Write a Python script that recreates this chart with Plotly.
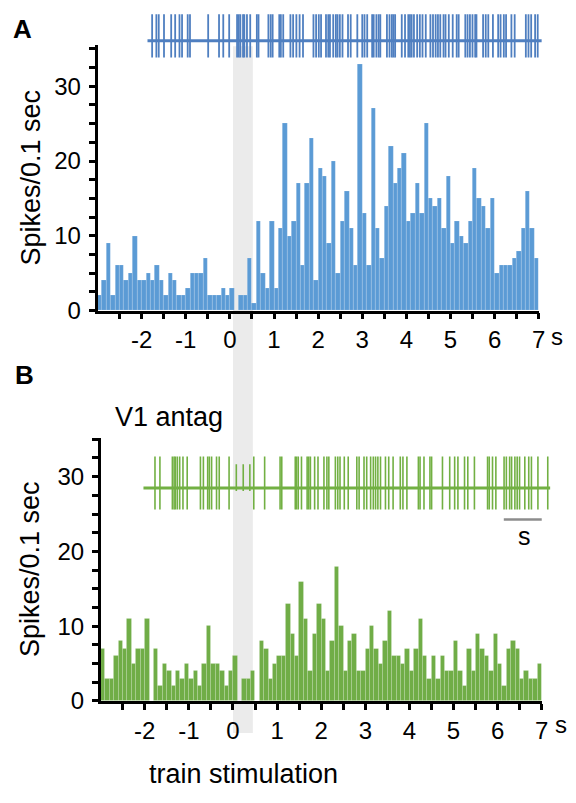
import plotly.graph_objects as go

# ---------------- data ----------------
bin_left = [-3 + 0.1 * i for i in range(100)]
bin_centers = [round(b + 0.05, 3) for b in bin_left]

counts_A = [2, 4, 9, 2, 6, 6, 4, 5, 10, 4,
            4, 5, 4, 6, 4, 2, 5, 4, 2, 2,
            3, 5, 5, 5, 7, 2, 2, 2, 3, 2,
            3, 0, 2, 2, 7, 1, 12, 5, 3, 12,
            3, 11, 25, 10, 12, 17, 6, 17, 23, 4,
            19, 18, 9, 20, 5, 12, 16, 11, 6, 33,
            13, 6, 27, 11, 7, 14, 22, 17, 19, 21,
            12, 13, 17, 13, 25, 15, 14, 15, 11, 18,
            9, 12, 10, 9, 12, 19, 15, 14, 11, 15,
            5, 6, 6, 6, 7, 8, 11, 16, 11, 7]

counts_B = [7, 3, 3, 6, 8, 7, 11, 5, 7, 7,
            11, 0, 7, 2, 5, 4, 2, 4, 3, 5,
            3, 4, 2, 5, 10, 5, 5, 4, 2, 4,
            6, 0, 3, 3, 4, 0, 8, 7, 3, 5,
            6, 6, 13, 9, 6, 16, 11, 4, 9, 13,
            11, 4, 8, 18, 10, 4, 8, 9, 4, 4,
            7, 10, 7, 5, 8, 12, 6, 6, 5, 7,
            4, 7, 11, 6, 3, 6, 3, 6, 4, 4,
            8, 4, 2, 7, 4, 9, 7, 6, 4, 9,
            5, 2, 7, 8, 7, 3, 4, 3, 3, 5]

spikes_A = [-1.762, -1.666, -1.612, -1.493, -1.330, -1.240, -1.142, -1.084, -0.956, -0.904,
            -0.492, -0.246, -0.150, -0.016, 0.163, 0.201, 0.237, 0.298, 0.327, 0.387,
            0.461, 0.611, 0.649, 0.873, 0.925, 0.969, 1.119, 1.155, 1.209, 1.372,
            1.433, 1.507, 1.580, 1.657, 1.894, 1.954, 2.015, 2.066, 2.178, 2.230,
            2.268, 2.342, 2.402, 2.440, 2.492, 2.552, 2.677, 2.738, 2.888, 3.000,
            3.051, 3.112, 3.224, 3.259, 3.320, 3.371, 3.409, 3.559, 3.618, 3.671,
            3.707, 3.745, 3.895, 3.969, 4.043, 4.081, 4.119, 4.171, 4.244, 4.305,
            4.365, 4.439, 4.544, 4.603, 4.663, 4.715, 4.768, 4.842, 4.887, 4.961,
            5.050, 5.140, 5.185, 5.335, 5.386, 5.440, 5.498, 5.559, 5.588, 5.738,
            5.798, 5.856, 5.961, 6.080, 6.134, 6.208, 6.259, 6.380, 6.454, 6.707,
            6.767, 6.828, 6.917, 6.976]
trace_span_A = [-1.867, 7.065]

spikes_B = [-1.769, -1.657, -1.375, -1.336, -1.307, -1.263, -1.209, -1.135, -1.039, -0.739,
            -0.672, -0.575, -0.537, -0.486, -0.374, -0.313, -0.090, 0.470, 0.716, 1.066,
            1.104, 1.410, 1.439, 1.478, 1.551, 1.679, 1.715, 1.753, 1.849, 1.925,
            2.060, 2.127, 2.171, 2.319, 2.373, 2.424, 2.521, 2.610, 2.805, 2.857,
            2.968, 3.029, 3.118, 3.179, 3.230, 3.282, 3.342, 3.454, 3.528, 3.627,
            3.790, 3.850, 3.940, 4.200, 4.238, 4.327, 4.462, 4.500, 4.746, 4.910,
            5.022, 5.096, 5.246, 5.320, 5.470, 5.768, 5.806, 5.880, 5.956, 6.142,
            6.194, 6.268, 6.313, 6.387, 6.439, 6.493, 6.612, 6.701, 6.762, 6.909,
            7.132]
small_spikes_B = [0.074, 0.231, 0.381]
trace_span_B = [-2.03, 7.186]

stim_window = [0.07, 0.52]
scale_bar = [6.14, 7.04]

x_tick_vals = [-2, -1, 0, 1, 2, 3, 4, 5, 6, 7]
x_tick_text = ["-2", "-1", "0", "1", "2", "3", "4", "5", "6", "7"]
y_tick_vals = [0, 10, 20, 30]

# ---------------- styling / layout ----------------
W, H = 576, 803
FONT = "Liberation Sans"
BLUE_BAR = "#5b9bd5"
BLUE_TR = "#4f7fc0"
GREEN_BAR = "#70ad47"
GREEN_TR = "#72b043"

A_x0, A_x1 = 98.7, 545.4
B_x0, B_x1 = 101.9, 548.4
A_y0, A_ytop = 315.7, 46
B_y0, B_ytop = 712.5, 445
PX_PER_UNIT_Y = 7.6
PX_PER_S = (A_x1 - A_x0) / 10.0


def px_dom_x(a, b):
    return [a / W, b / W]


def px_dom_y(bottom, top):
    return [(H - bottom) / H, (H - top) / H]


def spike_xy(times, lo, hi):
    xs, ys = [], []
    for t in times:
        xs += [t, t, None]
        ys += [lo, hi, None]
    return xs, ys


fig = go.Figure()

bar_line = dict(color="rgba(255,255,255,0.35)", width=0.4)
fig.add_trace(go.Bar(x=bin_centers, y=counts_A, width=0.1, marker=dict(color=BLUE_BAR, line=bar_line),
                     xaxis="x", yaxis="y", showlegend=False))
fig.add_trace(go.Bar(x=bin_centers, y=counts_B, width=0.1, marker=dict(color=GREEN_BAR, line=bar_line),
                     xaxis="x2", yaxis="y2", showlegend=False))

xa, ya = spike_xy(spikes_A, -17, 27)
fig.add_trace(go.Scatter(x=trace_span_A, y=[0, 0], mode="lines", line=dict(color=BLUE_TR, width=3),
                         xaxis="x3", yaxis="y3", showlegend=False))
fig.add_trace(go.Scatter(x=xa, y=ya, mode="lines", line=dict(color=BLUE_TR, width=1.8),
                         xaxis="x3", yaxis="y3", showlegend=False))

xb, yb = spike_xy(spikes_B, -22, 32)
xs, ys = spike_xy(small_spikes_B, -3, 24)
fig.add_trace(go.Scatter(x=trace_span_B, y=[0, 0], mode="lines", line=dict(color=GREEN_TR, width=3),
                         xaxis="x4", yaxis="y4", showlegend=False))
fig.add_trace(go.Scatter(x=xb, y=yb, mode="lines", line=dict(color=GREEN_TR, width=1.6),
                         xaxis="x4", yaxis="y4", showlegend=False))
fig.add_trace(go.Scatter(x=xs, y=ys, mode="lines", line=dict(color=GREEN_TR, width=1.6),
                         xaxis="x4", yaxis="y4", showlegend=False))

tickfont = dict(family=FONT, size=24, color="black")
axis_common = dict(showline=True, linecolor="black", linewidth=2.5, ticks="outside", ticklen=6,
                   tickwidth=2.5, tickcolor="black", showgrid=False, zeroline=False, tickfont=tickfont)

x_axis = dict(axis_common, range=[-3, 7], tickvals=x_tick_vals, ticktext=x_tick_text,
              minor=dict(ticks="outside", ticklen=6, tickwidth=2.5, tickcolor="black",
                         tickvals=[v + 0.5 for v in range(-3, 7)], showgrid=False))
y_axis = dict(axis_common, tickvals=y_tick_vals, ticklabelstandoff=3,
              minor=dict(ticks="outside", ticklen=6, tickwidth=2.5, tickcolor="black",
                         dtick=2.5, tick0=0, showgrid=False))

trace_ext = 560.0
fig.update_layout(
    width=W, height=H,
    margin=dict(l=0, r=0, t=0, b=0),
    paper_bgcolor="white", plot_bgcolor="rgba(0,0,0,0)",
    bargap=0,
    font=dict(family=FONT, color="black"),
    xaxis=dict(x_axis, domain=px_dom_x(A_x0, A_x1), anchor="y"),
    yaxis=dict(y_axis, domain=px_dom_y(A_y0, A_ytop), anchor="x",
               range=[0, (A_y0 - A_ytop) / PX_PER_UNIT_Y]),
    xaxis2=dict(x_axis, domain=px_dom_x(B_x0, B_x1), anchor="y2"),
    yaxis2=dict(y_axis, domain=px_dom_y(B_y0, B_ytop), anchor="x2",
                range=[0, (B_y0 - B_ytop) / PX_PER_UNIT_Y]),
    xaxis3=dict(visible=False, domain=px_dom_x(A_x0, trace_ext), anchor="y3",
                range=[-3, -3 + (trace_ext - A_x0) / PX_PER_S]),
    yaxis3=dict(visible=False, domain=px_dom_y(61.5, 11.5), anchor="x3", range=[-20, 30]),
    xaxis4=dict(visible=False, domain=px_dom_x(B_x0, trace_ext + 8), anchor="y4",
                range=[-3, -3 + (trace_ext + 8 - B_x0) / PX_PER_S]),
    yaxis4=dict(visible=False, domain=px_dom_y(521, 458), anchor="x4", range=[-25, 38]),
)

fig.add_shape(type="rect", xref="x", yref="paper", x0=stim_window[0], x1=stim_window[1],
              y0=(H - 745) / H, y1=(H - 47) / H, fillcolor="#ebebeb", line_width=0, layer="below")

fig.add_shape(type="line", xref="x2", yref="y2", x0=scale_bar[0], x1=scale_bar[1],
              y0=(B_y0 - 528) / PX_PER_UNIT_Y, y1=(B_y0 - 528) / PX_PER_UNIT_Y,
              line=dict(color="#8c8c8c", width=2.5))


def ann(text, xpx, ypx, size=24, bold=False, angle=0):
    fig.add_annotation(text=("<b>%s</b>" % text) if bold else text, x=xpx / W, y=(H - ypx) / H,
                       xref="paper", yref="paper", showarrow=False, textangle=angle,
                       xanchor="center", yanchor="middle",
                       font=dict(family=FONT, size=size, color="black"))


ann("A", 23, 29, size=26, bold=True)
ann("B", 25, 381, size=26, bold=True)
ann("Spikes/0.1 sec", 31, (A_y0 + A_ytop) / 2, size=27, angle=-90)
ann("Spikes/0.1 sec", 31, (B_y0 + B_ytop) / 2, size=27, angle=-90)
ann("s", 564, 342)
ann("s", 568, 736)
ann("s", 531, 545, size=25)
ann("V1 antag", 171, 424, size=27)
ann("train stimulation", 247, 787, size=27)

page_fix = (
    "var d=document.documentElement,b=document.body;"
    "d.style.margin='0';d.style.overflow='hidden';b.style.margin='0';b.style.overflow='hidden';"
)
fig.write_html("out.html", config={"displayModeBar": False}, post_script=page_fix)
